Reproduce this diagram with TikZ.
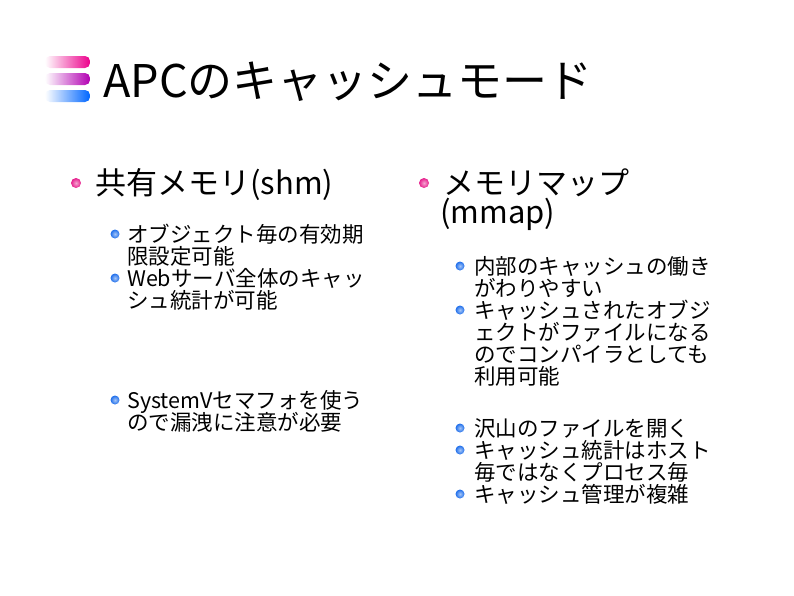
\documentclass[tikz,border=0pt]{standalone}
\usepackage{fontspec}
\setmainfont{Noto Sans CJK JP}
\usetikzlibrary{fadings}
\definecolor{pinkb}{RGB}{230,30,140}
\definecolor{blueb}{RGB}{30,110,235}
\begin{document}
\begin{tikzpicture}[x=1pt,y=-1pt,
 t/.style={anchor=base west,inner sep=0pt,font=\fontsize{#1}{#1}\selectfont},
 pb/.style={circle,inner sep=0pt,minimum size=10pt,inner color=pinkb!40!white,outer color=pinkb},
 bb/.style={circle,inner sep=0pt,minimum size=9pt,inner color=blueb!40!white,outer color=blueb}]
\useasboundingbox (0,0) rectangle (794,595);
\foreach \y/\c in {62/magenta,79/violet!60!magenta,96/blue!60!cyan}{
 \fill[\c,path fading=west,rounded corners=5pt] (45,\y-6) rectangle (90,\y+6);}
\node[t=45] (title) at (103,97) {APCのキャッシュモード};
\node[pb] (b1) at (76,183) {};
\node[t=31] (h1) at (95,194) {共有メモリ(shm)};
\node[pb] (b2) at (424,183) {};
\node[t=31] (h2) at (443,194) {メモリマップ};
\node[t=31] (h2b) at (440,223) {(mmap)};
\foreach \i/\y/\s in {a/242/オブジェクト毎の有効期,b/264/限設定可能,c/286/Webサーバ全体のキャッ,d/308/シュ統計が可能,e/408/SystemVセマフォを使う,f/430/ので漏洩に注意が必要}
 \node[t=21.5] (l\i) at (127,\y) {\s};
\foreach \y in {234,278,400} \node[bb] at (115,\y) {};
\foreach \i/\y/\s in {a/274/内部のキャッシュの働き,b/296/がわりやすい,c/318/キャッシュされたオブジ,d/340/ェクトがファイルになる,e/362/のでコンパイラとしても,f/384/利用可能,g/436/沢山のファイルを開く,h/458/キャッシュ統計はホスト,i/480/毎ではなくプロセス毎,j/502/キャッシュ管理が複雑}
 \node[t=21.5] (r\i) at (474,\y) {\s};
\foreach \y in {266,310,428,450,494} \node[bb] at (460,\y) {};
\end{tikzpicture}
\end{document}
